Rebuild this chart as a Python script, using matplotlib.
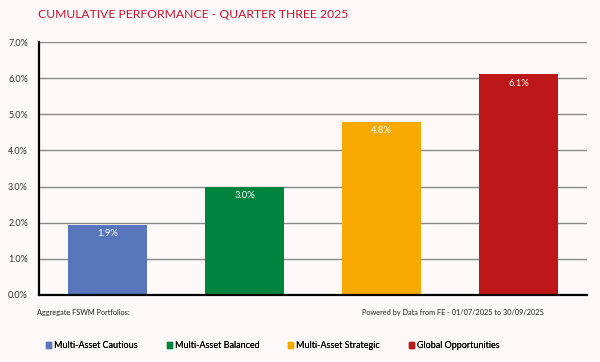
import numpy as np
import matplotlib.pyplot as plt
from matplotlib.patches import Patch

plt.rcParams["font.family"] = ["Lato", "DejaVu Sans"]

portfolios = ["Multi-Asset Cautious", "Multi-Asset Balanced",
              "Multi-Asset Strategic", "Global Opportunities"]
performance = [1.94, 3.0, 4.79, 6.11]
labels = ["1.9%", "3.0%", "4.8%", "6.1%"]
colors = ["#5876bb", "#00843d", "#f8a900", "#bd1718"]
yticks = [0, 1, 2, 3, 4, 5, 6, 7]

bg = "#fcf9f8"
fig = plt.figure(figsize=(6, 3.62), dpi=100, facecolor=bg)
ax = fig.add_axes([39 / 600, 1 - 295 / 362, 548 / 600, 253 / 362], facecolor=bg)

x = np.arange(len(portfolios))
bars = ax.bar(x, performance, width=0.57, color=colors, zorder=3)
for b, lab in zip(bars, labels):
    ax.text(b.get_x() + b.get_width() / 2, b.get_height() - 0.12, lab,
            ha="center", va="top", color="white", fontsize=6.8, zorder=4)

ax.set_xlim(-0.5, 3.5)
ax.set_ylim(0, 7)
ax.set_yticks(yticks)
ax.set_yticklabels([f"{v:.1f}%" for v in yticks], fontsize=6.5, color="#333333")
ax.set_xticks([])
ax.tick_params(axis="y", length=0, pad=8)
ax.yaxis.grid(True, color="#8a8a8a", linewidth=1, zorder=0)
for s in ["top", "right"]:
    ax.spines[s].set_visible(False)
for s in ["left", "bottom"]:
    ax.spines[s].set_color("black")
    ax.spines[s].set_linewidth(1.6)
    ax.spines[s].set_zorder(5)

fig.text(38 / 600, 1 - 14 / 362, "CUMULATIVE PERFORMANCE - QUARTER THREE 2025",
         color="#c8102e", fontsize=8.7, va="center", ha="left")
fig.text(37 / 600, 1 - 312 / 362, "Aggregate FSWM Portfolios:",
         fontsize=5.3, va="center", ha="left", color="#222222")
fig.text(362 / 600, 1 - 312 / 362, "Powered by Data from FE - 01/07/2025 to 30/09/2025",
         fontsize=5.3, va="center", ha="left", color="#222222")

# legend: one entry per slot, evenly spaced like the original
for i, (c, p) in enumerate(zip(colors, portfolios)):
    leg = fig.legend(handles=[Patch(color=c, label=p)], loc="center left",
                     bbox_to_anchor=((46 + 121 * i) / 600, 1 - 346 / 362),
                     frameon=False, fontsize=6.5, handlelength=0.6, handleheight=0.6,
                     handletextpad=0.3, borderpad=0, borderaxespad=0)
    fig.add_artist(leg)

fig.savefig("out.png", dpi=100, facecolor=bg)
